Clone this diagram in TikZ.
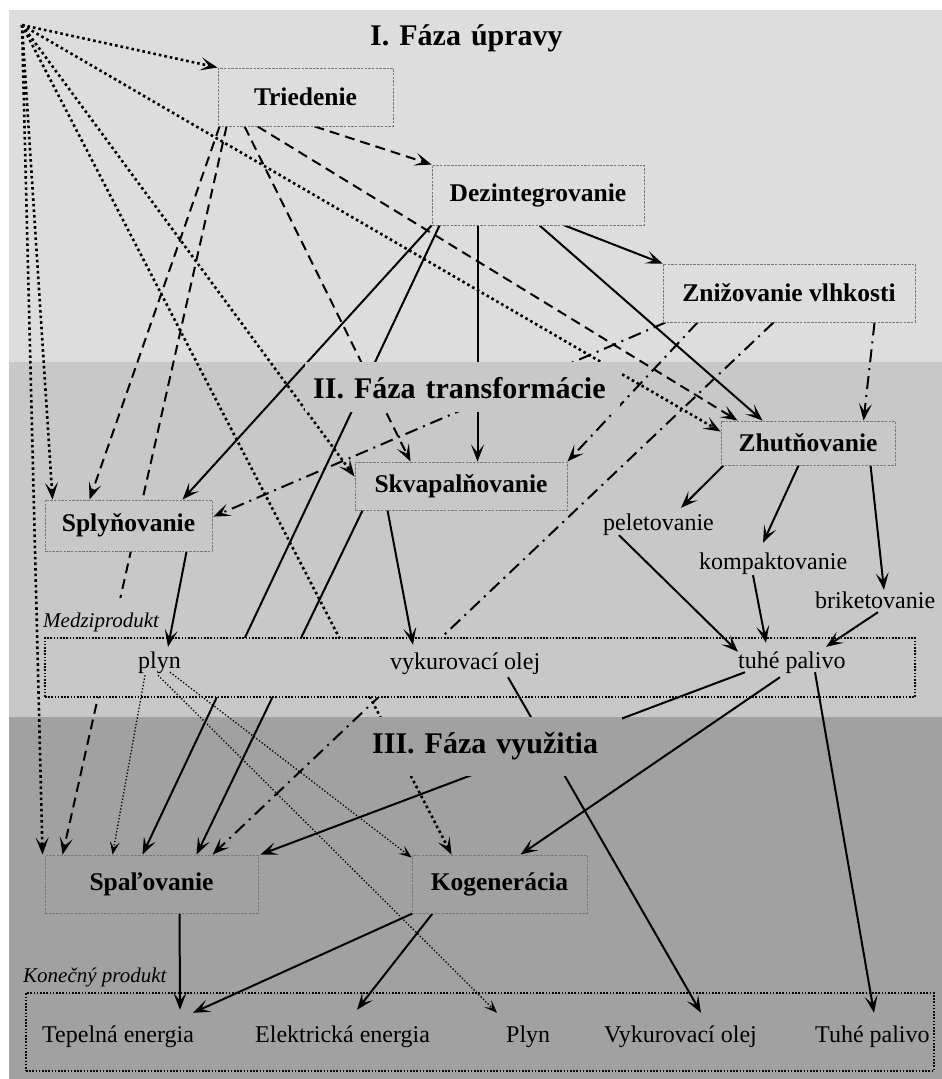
\documentclass[tikz,border=0pt]{standalone}
\usepackage{fontspec}
\setmainfont{Liberation Serif}
\usetikzlibrary{arrows.meta,calc}
\definecolor{bandA}{RGB}{221,221,221}
\definecolor{bandB}{RGB}{200,200,200}
\definecolor{bandC}{RGB}{161,161,161}
\definecolor{boxline}{RGB}{120,120,120}
\pgfdeclarelayer{bands}
\pgfdeclarelayer{lines1}
\pgfdeclarelayer{prod}
\pgfdeclarelayer{lines2}
\pgfsetlayers{bands,lines1,prod,lines2,main}
\tikzset{
  procbox/.style={draw=boxline, line width=0.9pt, dash pattern=on 2.5pt off 1.2pt,
    font=\fontsize{25.5}{30}\selectfont\bfseries, inner sep=0pt},
  prodbox/.style={draw=black, line width=1.8pt, dash pattern=on 1.6pt off 1.6pt, inner sep=0pt},
  phasetitle/.style={font=\fontsize{30}{36}\selectfont\bfseries, inner ysep=0pt,
    align=left, anchor=base west},
  txt/.style={font=\fontsize{24}{28}\selectfont, inner sep=0pt, text height=18pt,
    text depth=6pt, anchor=base west},
  lab/.style={font=\fontsize{21}{25}\selectfont\itshape, inner sep=0pt, anchor=base west},
  tipA/.style={-{Stealth[length=17pt,width=13pt,inset=8pt]}},
  sol/.style={tipA, line width=2pt},
  dsh/.style={tipA, line width=2pt, dash pattern=on 10pt off 6pt},
  dd/.style={tipA, line width=2pt, dash pattern=on 13pt off 6pt on 2pt off 6pt},
  dtk/.style={tipA, line width=2.6pt, dash pattern=on 2.6pt off 3pt},
  dtn/.style={-{Stealth[length=13pt,width=10pt,inset=6pt]}, line width=1.3pt,
    dash pattern=on 1.3pt off 2pt},
}
\begin{document}
\begin{tikzpicture}[x=1pt,y=-1pt]
\useasboundingbox (0,0) rectangle (942,1079);
\begin{pgfonlayer}{bands}
\fill[white] (0,0) rectangle (942,1079);
\fill[bandA] (9,10) rectangle (942,362);
\fill[bandB] (9,362) rectangle (942,717);
\fill[bandC] (9,717) rectangle (942,1079);
\end{pgfonlayer}

% phase titles
\node[phasetitle, fill=bandA, inner xsep=4pt, text width=195pt, text height=28pt, text depth=10pt] (ph1) at (366,45) {I. Fáza úpravy};
\node[phasetitle, fill=bandB, inner xsep=8pt, text width=299pt, text height=36pt, text depth=14pt] (ph2) at (305,398) {II. Fáza transformácie};
\node[phasetitle, fill=bandC, inner xsep=4pt, text width=246pt, text height=36pt, text depth=23pt] (ph3) at (368,753) {III. Fáza využitia};

% process boxes
\node[procbox, fill=bandA, minimum width=175pt, minimum height=58pt] (tri) at (305.5,97) {Triedenie};
\node[procbox, fill=bandA, minimum width=212pt, minimum height=60pt] (dez) at (538,195) {Dezintegrovanie};
\node[procbox, fill=bandA, minimum width=252pt, minimum height=58pt] (zni) at (789,293) {Znižovanie vlhkosti};
\node[procbox, fill=bandB, minimum width=174pt, minimum height=44pt] (zhu) at (808,443) {Zhutňovanie};
\node[procbox, fill=bandB, minimum width=212pt, minimum height=48pt] (skv) at (461,486) {Skvapalňovanie};
\node[procbox, fill=bandB, minimum width=167pt, minimum height=51pt] (spl) at (128.5,525.5) {Splyňovanie};
\node[procbox, fill=bandC, minimum width=213pt, minimum height=58pt] (spa) at (151.5,884) {Spaľovanie};
\node[procbox, fill=bandC, minimum width=175pt, minimum height=58pt] (kog) at (499.5,884) {Kogenerácia};

% product frames
\begin{pgfonlayer}{prod}
\node[prodbox, fill=bandB, minimum width=870pt, minimum height=59pt] (mbox) at (480,667.5) {};
\node[prodbox, fill=bandC, minimum width=908pt, minimum height=78pt] (kbox) at (480,1032) {};
\end{pgfonlayer}
\node[lab, fill=bandB, text height=29pt, text depth=9pt] (mlab) at (43,627) {Medziprodukt};
\node[lab] (klab) at (23,982) {Konečný produkt};

% texts
\node[txt] (pel) at (603,530) {peletovanie};
\node[txt] (kom) at (699,569) {kompaktovanie};
\node[txt] (bri) at (815,608) {briketovanie};
\node[txt] (plyn) at (138,668) {plyn};
\node[txt] (vo) at (390,669) {vykurovací olej};
\node[txt] (tp) at (738,668) {tuhé palivo};
\node[txt] (TE) at (42,1042) {Tepelná energia};
\node[txt] (EE) at (255,1042) {Elektrická energia};
\node[txt] (PL) at (506,1042) {Plyn};
\node[txt] (VO) at (604,1042) {Vykurovací olej};
\node[txt] (TP) at (815,1042) {Tuhé palivo};

\coordinate (src) at (22,25);

\begin{pgfonlayer}{lines1}
% thick dotted from source
\draw[dtk] (src) -- (tri.north west);
\draw[dtk] (src) -- ($(zhu.north west)+(0,11)$);
\draw[dtk] (src) -- ($(skv.north west)+(0,15)$);
\draw[dtk] (src) -- ($(kog.north west)+(40,0)$);
\draw[dtk] (src) -- ($(spl.north west)+(8,0)$);
\draw[dtk] (src) -- ($(spa.north west)+(-2,0)$);
% dashed from Triedenie
\draw[dsh] ($(tri.south west)+(97,0)$) -- (dez.north west);
\draw[dsh] ($(tri.south west)+(40,0)$) -- ($(zhu.north west)+(17,0)$);
\draw[dsh] ($(tri.south west)+(27,0)$) -- ($(skv.north west)+(56,0)$);
\draw[dsh] ($(tri.south west)+(2,0)$) -- ($(spl.north west)+(45,0)$);
\draw[dsh] ($(tri.south west)+(9,0)$) -- ($(spa.north west)+(18,0)$);
% solid from Dezintegrovanie
\draw[sol] ($(dez.south west)+(133,0)$) -- (zni.north west);
\draw[sol] ($(dez.south west)+(108,0)$) -- ($(zhu.north west)+(42,0)$);
\draw[sol] ($(dez.south west)+(46,0)$) -- ($(skv.north west)+(123,0)$);
\draw[sol] (dez.south west) -- ($(spl.north west)+(138,0)$);
\draw[sol] ($(dez.south west)+(8,0)$) -- ($(spa.north west)+(98,0)$);
% Skvapalnovanie -> Spalovanie
\draw[sol] ($(skv.south west)+(8,0)$) -- ($(spa.north west)+(152,0)$);
% dash-dot from Znizovanie
\draw[dd] ($(zni.south west)+(3,0)$) -- ($(spl.north east)+(1,17)$);
\draw[dd] ($(zni.south west)+(35,0)$) -- (skv.north east);
\draw[dd] ($(zni.south west)+(111,0)$) -- ($(spa.north west)+(168,0)$);
\draw[dd] ($(zni.south west)+(212,0)$) -- ($(zhu.north west)+(143,0)$);
% Zhutnovanie
\draw[sol] ($(zhu.south west)+(3,0)$) -- ($(pel.north west)+(78,-4)$);
\draw[sol] ($(zhu.south west)+(78,0)$) -- ($(kom.north west)+(64,-8)$);
\draw[sol] ($(zhu.south west)+(150,0)$) -- ($(bri.north west)+(69,0)$);
\end{pgfonlayer}

\begin{pgfonlayer}{lines2}
\draw[sol] ($(pel.south west)+(16,-1)$) -- ($(tp.north west)+(0,2)$);
\draw[sol] ($(kom.south west)+(54,0)$) -- ($(tp.north west)+(28,-7)$);
\draw[sol] ($(bri.south west)+(63,-2)$) -- ($(tp.north west)+(88,-3)$);
\draw[sol] ($(spl.south west)+(142,0)$) -- ($(plyn.north west)+(30,-3)$);
\draw[sol] ($(skv.south west)+(33,0)$) -- ($(vo.north west)+(23,-6)$);
% from plyn
\draw[dtn] ($(plyn.south west)+(7,1)$) -- ($(spa.north west)+(68,0)$);
\draw[dtn] ($(plyn.south west)+(32,-2)$) -- ($(kog.north west)+(0,3)$);
\draw[dtn] ($(plyn.south west)+(20,1)$) -- ($(PL.north west)+(-9,-11)$);
% from vykurovaci olej
\draw[sol] ($(vo.south west)+(118,2)$) -- ($(VO.north west)+(97,-11)$);
% from tuhe palivo
\draw[sol] ($(tp.south west)+(7,-2)$) -- ($(spa.north east)+(2,0)$);
\draw[sol] ($(tp.south west)+(42,3)$) -- ($(kog.north west)+(109,0)$);
\draw[sol] ($(tp.south west)+(77,-2)$) -- ($(TP.north west)+(59,-11)$);
% to final products
\draw[sol] ($(kog.south west)+(1,0)$) -- ($(TE.north west)+(151,-11)$);
\draw[sol] ($(kog.south west)+(21,0)$) -- ($(EE.north west)+(102,-14)$);
\draw[sol] ($(spa.south west)+(135,0)$) -- ($(TE.north west)+(138,-14)$);
\end{pgfonlayer}
\end{tikzpicture}
\end{document}
